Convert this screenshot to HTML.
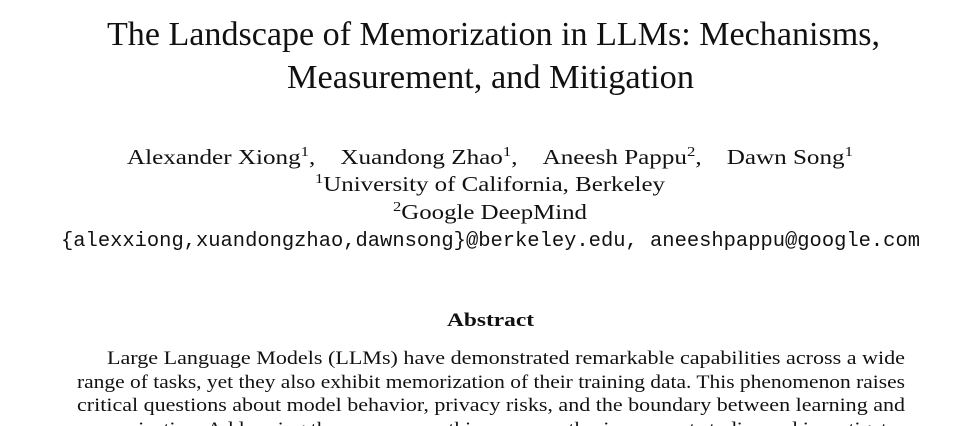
<!DOCTYPE html>
<html><head><meta charset="utf-8">
<style>
html,body{margin:0;padding:0;background:#fff;width:980px;height:426px;overflow:hidden}
svg{display:block}
text{font-family:"Liberation Serif",serif;fill:#111}
.mono{font-family:"Liberation Mono",monospace}
</style></head>
<body>
<svg width="980" height="426" viewBox="0 0 980 426">
<text x="107" y="45" font-size="34" textLength="773" lengthAdjust="spacingAndGlyphs">The Landscape of Memorization in LLMs: Mechanisms,</text>
<text x="287" y="88" font-size="34" textLength="407" lengthAdjust="spacingAndGlyphs">Measurement, and Mitigation</text>
<text x="127" y="164" font-size="21" textLength="726" lengthAdjust="spacingAndGlyphs">Alexander Xiong<tspan font-size="14" dy="-8">1</tspan><tspan dy="8">,&#160;&#160;&#160;&#160;Xuandong Zhao</tspan><tspan font-size="14" dy="-8">1</tspan><tspan dy="8">,&#160;&#160;&#160;&#160;Aneesh Pappu</tspan><tspan font-size="14" dy="-8">2</tspan><tspan dy="8">,&#160;&#160;&#160;&#160;Dawn Song</tspan><tspan font-size="14" dy="-8">1</tspan></text>
<text x="315" y="191" font-size="21" textLength="350" lengthAdjust="spacingAndGlyphs"><tspan font-size="14" dy="-8">1</tspan><tspan dy="8">University of California, Berkeley</tspan></text>
<text x="393" y="219" font-size="21" textLength="194" lengthAdjust="spacingAndGlyphs"><tspan font-size="14" dy="-8">2</tspan><tspan dy="8">Google DeepMind</tspan></text>
<text class="mono" x="61" y="246" font-size="20" textLength="859" lengthAdjust="spacingAndGlyphs">{alexxiong,xuandongzhao,dawnsong}@berkeley.edu, aneeshpappu@google.com</text>
<text x="447" y="326" font-size="19" font-weight="bold" textLength="87" lengthAdjust="spacingAndGlyphs">Abstract</text>
<g font-size="19">
<text x="107" y="364" textLength="798" lengthAdjust="spacingAndGlyphs">Large Language Models (LLMs) have demonstrated remarkable capabilities across a wide</text>
<text x="77" y="388" textLength="828" lengthAdjust="spacingAndGlyphs">range of tasks, yet they also exhibit memorization of their training data. This phenomenon raises</text>
<text x="77" y="411" textLength="828" lengthAdjust="spacingAndGlyphs">critical questions about model behavior, privacy risks, and the boundary between learning and</text>
<text x="77" y="435" textLength="828" lengthAdjust="spacingAndGlyphs">memorization. Addressing these concerns, this paper synthesizes recent studies and investigates</text>
</g>
</svg>
</body></html>
